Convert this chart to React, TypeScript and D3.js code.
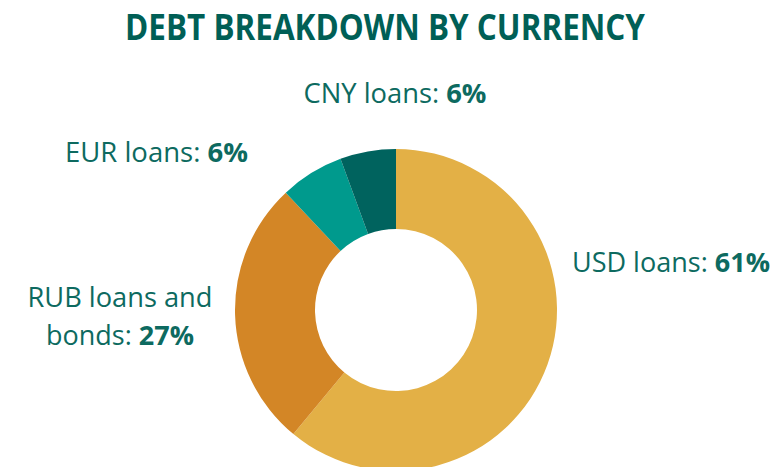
import React from "react";
import * as d3 from "d3";

const categories = ["USD loans", "RUB loans and bonds", "EUR loans", "CNY loans"];
const values = [61, 27, 6.4, 5.6];
const pctLabels = ["61%", "27%", "6%", "6%"];
const colors = ["#E3B046", "#D38626", "#009A8D", "#00635E"];
const title = "DEBT BREAKDOWN BY CURRENCY";

const W = 778;
const H = 467;
const cx = 396;
const cy = 310;
const R = 161;
const r = 81;
const textColor = "#0D6A60";
const font = "'Open Sans', sans-serif";

// label layout: lines of [regular text, bold text], anchor x, baseline y, line widths
const labelLayout: { lines: [string, string][]; x: number; y: number; widths: number[] }[] = [
  { lines: [[categories[0] + ": ", pctLabels[0]]], x: 671, y: 272, widths: [198] },
  { lines: [["RUB loans and", ""], ["bonds: ", pctLabels[1]]], x: 120, y: 307, widths: [185, 148] },
  { lines: [[categories[2] + ": ", pctLabels[2]]], x: 156.5, y: 162, widths: [183] },
  { lines: [[categories[3] + ": ", pctLabels[3]]], x: 395, y: 103, widths: [183] },
];

export default function App() {
  const pie = d3.pie<number>().sort(null).value((d) => d)(values);
  const arc = d3.arc<d3.PieArcDatum<number>>().innerRadius(r).outerRadius(R);
  return (
    <svg
      width={W}
      height={H}
      style={{ position: "absolute", left: 0, top: 0, background: "#fff" }}
    >
      <text
        x={385}
        y={40}
        textAnchor="middle"
        fontFamily={font}
        fontWeight={700}
        fontSize={36}
        fill="#005F56"
        textLength={520}
        lengthAdjust="spacingAndGlyphs"
      >
        {title}
      </text>
      <g transform={`translate(${cx},${cy})`}>
        {pie.map((p, i) => (
          <path key={i} d={arc(p) || ""} fill={colors[i]} />
        ))}
      </g>
      {labelLayout.map((l, i) => (
        <g key={i}>
          {l.lines.map((ln, j) => (
            <text
              key={j}
              x={l.x}
              y={l.y + j * 38}
              textAnchor="middle"
              fontFamily={font}
              fontSize={26.5}
              fill={textColor}
              textLength={l.widths[j]}
              lengthAdjust="spacingAndGlyphs"
            >
              <tspan>{ln[0]}</tspan>
              {ln[1] && <tspan fontWeight={700}>{ln[1]}</tspan>}
            </text>
          ))}
        </g>
      ))}
    </svg>
  );
}
